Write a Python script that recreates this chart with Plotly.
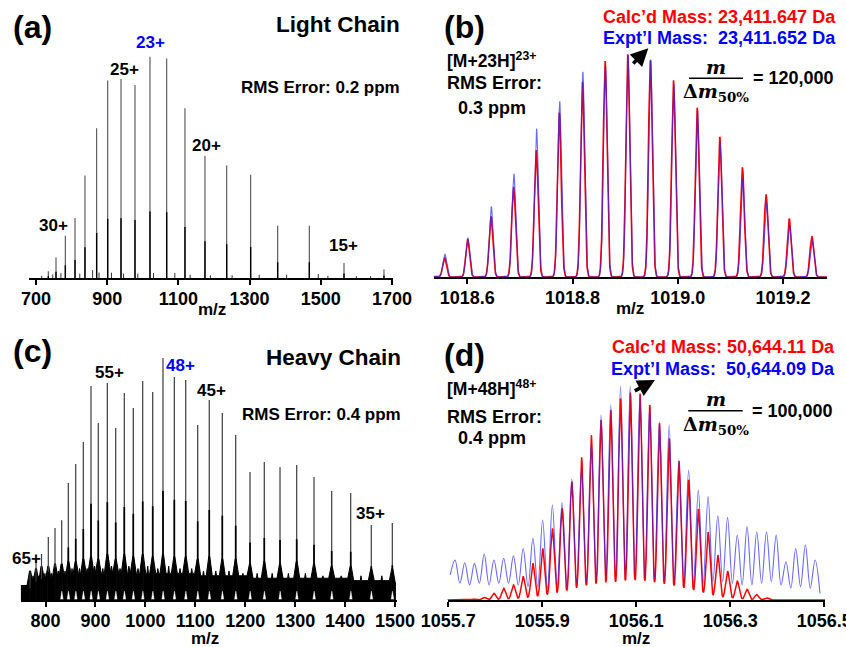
import numpy as np
import plotly.graph_objects as go

W, H = 846, 647
FONT = "Liberation Sans, Arial, sans-serif"
RED = "#ff0000"
BLUE = "#0000ff"

# ---------------- data: (a) light chain charge-state envelope ----------------
a_mz = [734.6, 756.2, 782.4, 809.6, 837.6, 870.4, 901.4, 938.8, 978.1, 1020.2,
        1067.1, 1118.5, 1174.7, 1235.7, 1303.0, 1378.9, 1467.8, 1565.2, 1677.5]
a_int = [3.0, 9.3, 19.1, 27.1, 46.3, 67.7, 89.2, 89.9, 87.2, 100.0,
         99.2, 76.7, 55.2, 50.8, 46.6, 23.6, 23.6, 6.8, 3.8]
a_minor_mz = [716, 747, 770, 823, 859, 877, 912, 946, 986, 1030, 1090, 1133,
              1190, 1251, 1327, 1404, 1493, 1520, 1600, 1640]
a_minor_int = [1.0, 1.6, 2.2, 2.0, 3.6, 2.5, 2.4, 2.0, 2.0, 2.2, 2.3, 1.5,
               1.2, 1.2, 1.5, 1.5, 1.8, 1.0, 0.8, 0.8]
a_ticks = [700, 900, 1100, 1300, 1500, 1700]

# ---------------- data: (b) [M+23H]23+ isotopic distribution ----------------
b_mz = [1018.5568, 1018.6006, 1018.6450, 1018.6880, 1018.7310, 1018.7750,
        1018.8190, 1018.8620, 1018.9050, 1018.9480, 1018.9920, 1019.0370,
        1019.0800, 1019.1230, 1019.1680, 1019.2120, 1019.2550]
b_calc = [8.7, 16.8, 27.2, 40.4, 56.9, 73.7, 87.6, 97.0, 100.0, 97.3, 88.3,
          76.0, 62.9, 49.1, 37.1, 26.2, 18.3]
b_expt = [10.2, 17.5, 31.7, 46.4, 66.6, 78.9, 92.1, 95.1, 99.6, 97.6, 86.5,
          74.9, 60.2, 44.6, 33.2, 23.2, 16.2]
b_expt_shift = 0.0006
b_ticks = [1018.6, 1018.8, 1019.0, 1019.2]

# ---------------- data: (c) heavy chain charge-state envelope ----------------
c_mz = [769.0, 781.0, 792.0, 805.6, 819.0, 832.4, 845.7, 860.5, 875.7, 891.1,
        905.7, 923.8, 940.6, 957.8, 975.8, 994.7, 1014.7, 1035.3, 1058.0,
        1080.8, 1104.8, 1128.0, 1154.1, 1180.9, 1209.6, 1238.2, 1269.7,
        1303.1, 1337.8, 1373.2, 1411.3, 1452.5, 1494.6]
c_int = [11.0, 17.0, 19.0, 26.0, 29.8, 33.0, 48.3, 56.2, 65.3, 88.4, 73.1,
         89.7, 71.1, 85.5, 79.3, 90.5, 86.0, 100.0, 92.1, 90.9, 72.3, 82.6,
         77.3, 68.2, 52.9, 57.0, 55.0, 55.8, 50.8, 45.0, 44.2, 31.0, 31.8]
# noisy base of the heavy-chain spectrum (% of tallest peak)
c_grass_peak = [12, 13, 14, 14, 15, 15, 16, 16, 17, 18, 17, 19, 17, 19, 18, 19,
                18, 19, 18, 18, 17, 18, 17, 17, 15, 16, 15, 16, 15, 14, 14, 13, 13]
c_grass_mid = [10, 10, 11, 11, 12, 12, 13, 13, 13, 14, 13, 14, 13, 14, 13, 14,
               13, 14, 13, 13, 12, 12, 12, 11, 11, 11, 11, 11, 10, 10, 10, 10]
c_grass_valley = [6, 7, 7, 8, 8, 9, 9, 10, 10, 11, 11, 11, 11, 11, 11, 11, 11,
                  11, 11, 11, 11, 10, 10, 10, 10, 9, 9, 9, 9, 9, 9, 8, 8, 7]
c_notch = 3.6
c_ticks = [800, 900, 1000, 1100, 1200, 1300, 1400, 1500]

# ---------------- data: (d) [M+48H]48+ isotopic distribution ----------------
d_mz = [1055.7143, 1055.7350, 1055.7557, 1055.7764, 1055.7971, 1055.8178,
        1055.8386, 1055.8593, 1055.8800, 1055.9007, 1055.9214, 1055.9421,
        1055.9628, 1055.9835, 1056.0042, 1056.0249, 1056.0456, 1056.0664,
        1056.0871, 1056.1078, 1056.1285, 1056.1492, 1056.1699, 1056.1906,
        1056.2113, 1056.2320, 1056.2527, 1056.2734, 1056.2942, 1056.3149,
        1056.3356, 1056.3563, 1056.3770, 1056.3977, 1056.4184, 1056.4391,
        1056.4598, 1056.4805]
d_calc = [0, 0, 0.5, 1.2, 3.1, 5.5, 7.0, 10.9, 17.1, 24.1, 33.5, 42.8, 55.3,
          66.7, 77.1, 84.1, 88.8, 94.2, 96.9, 96.6, 91.1, 82.6, 75.5, 65.0,
          56.1, 42.5, 31.8, 21.0, 13.5, 8.8, 5.0, 2.5, 1.0, 0, 0, 0, 0, 0]
d_expt = [18.7, 17.4, 17.1, 21.5, 18.7, 19.5, 20.6, 24.1, 28.8, 37.4, 44.4,
          45.5, 56.5, 61.5, 73.2, 86.4, 91.1, 99.7, 100.0, 95.8, 90.3, 83.3,
          81.8, 65.4, 60.7, 51.4, 48.3, 39.3, 38.6, 30.4, 34.3, 31.9, 31.9,
          30.4, 17.9, 24.1, 25.7, 18.7]
d_expt_valley = [11.7, 7.8, 7.0, 7.8, 7.0, 7.8, 7.8, 7.0, 6.2, 6.2, 5.5, 7.0,
                 6.2, 7.8, 8.6, 9.3, 10.9, 11.7, 10.9, 12.5, 10.9, 10.1, 9.3,
                 8.6, 8.6, 7.8, 7.8, 8.6, 8.6, 7.8, 7.0, 7.0, 7.8, 8.6, 7.0,
                 5.5, 6.2, 5.5, 3.1]
d_ticks = [1055.7, 1055.9, 1056.1, 1056.3, 1056.5]

# ---------------- helpers ----------------
def px(x):
    return x / W

def py(y):
    return 1 - y / H

def sticks(mz, inten, frac=1.0):
    xs, ys = [], []
    for m, h in zip(mz, inten):
        xs += [m, m, None]
        ys += [0, h * frac, None]
    return xs, ys

def profile(centers, heights, sigma, lo, hi, step):
    x = np.arange(lo, hi, step)
    y = np.zeros_like(x)
    for c, h in zip(centers, heights):
        y += h * np.exp(-0.5 * ((x - c) / sigma) ** 2)
    return x, y

fig = go.Figure()

# panel geometry (pixels): x-left, x-right, baseline, 100% level, top
panels = {
    "a": dict(xl=29.3, xr=393.3, yb=278.0, y100=56.7, yt=30.0, rng=[681.2, 1703.7], ticks=a_ticks, fmt="%d"),
    "b": dict(xl=434.0, xr=827.0, yb=277.0, y100=54.3, yt=30.0, rng=[1018.5367, 1019.2838], ticks=b_ticks, fmt="%.1f"),
    "c": dict(xl=20.7, xr=396.7, yb=600.0, y100=358.0, yt=345.0, rng=[750.3, 1503.4], ticks=c_ticks, fmt="%d"),
    "d": dict(xl=447.5, xr=825.0, yb=600.0, y100=386.0, yt=345.0, rng=[1055.6983, 1056.5015], ticks=d_ticks, fmt="%.1f"),
}
axis_ids = {"a": ("x", "y"), "b": ("x2", "y2"), "c": ("x3", "y3"), "d": ("x4", "y4")}

layout_axes = {}
for k, p in panels.items():
    xa, ya = axis_ids[k]
    xname = "xaxis" if xa == "x" else "xaxis" + xa[1:]
    yname = "yaxis" if ya == "y" else "yaxis" + ya[1:]
    ymax = 100.0 * (p["yb"] - p["yt"]) / (p["yb"] - p["y100"])
    layout_axes[xname] = dict(
        domain=[px(p["xl"]), px(p["xr"])], range=p["rng"], anchor=ya,
        showline=True, linecolor="black", linewidth=2, showgrid=False, zeroline=False,
        ticks="outside", ticklen=5, tickwidth=2, tickcolor="black",
        tickmode="array", tickvals=p["ticks"], ticktext=[p["fmt"] % t for t in p["ticks"]],
        tickfont=dict(family=FONT, size=18, color="black", weight="bold"),
        ticklabelstandoff=-2, automargin=False, ticklabeloverflow="allow",
        layer="above traces", fixedrange=True,
    )
    layout_axes[yname] = dict(
        domain=[py(p["yb"]), py(p["yt"])], range=[0, ymax], anchor=xa,
        visible=False, fixedrange=True, automargin=False,
    )

# (a) sticks
x, y = sticks(a_minor_mz, a_minor_int)
fig.add_trace(go.Scatter(x=x, y=y, mode="lines", line=dict(color="#333333", width=1), xaxis="x", yaxis="y"))
x, y = sticks(a_mz, a_int)
fig.add_trace(go.Scatter(x=x, y=y, mode="lines", line=dict(color="#505050", width=1.1), xaxis="x", yaxis="y"))
x, y = sticks(a_mz, a_int, 0.3)
fig.add_trace(go.Scatter(x=x, y=y, mode="lines", line=dict(color="#000000", width=1.4), xaxis="x", yaxis="y"))

# (b) profiles
x, y = profile(b_mz, b_calc, 0.0036, 1018.50, 1019.30, 0.0003)
fig.add_trace(go.Scatter(x=x, y=y, mode="lines", line=dict(color=RED, width=1.6), xaxis="x2", yaxis="y2"))
x, y = profile([m + b_expt_shift for m in b_mz], b_expt, 0.0036, 1018.50, 1019.30, 0.0003)
fig.add_trace(go.Scatter(x=x, y=y, mode="lines", line=dict(color="rgba(40,40,255,0.7)", width=1.1), xaxis="x2", yaxis="y2"))

# (c) noisy base + sticks
gx, gy = [panels["c"]["rng"][0]], [c_grass_valley[0]]
for i, m in enumerate(c_mz):
    gx += [m - 6.0, m - 1.0, m + 1.0, m + 6.0]
    gy += [c_grass_valley[i], c_grass_peak[i], c_grass_peak[i], c_grass_valley[i + 1]]
    if i + 1 < len(c_mz):
        mid = 0.5 * (m + c_mz[i + 1])
        gx += [mid - 1.5, mid, mid + 1.5]
        gy += [c_grass_valley[i + 1], c_grass_mid[i], c_grass_valley[i + 1]]
gx.append(panels["c"]["rng"][1] - 1.5)
gy.append(c_grass_valley[-1])
fig.add_trace(go.Scatter(x=gx, y=gy, mode="lines", fill="tozeroy", fillcolor="black",
                         line=dict(color="black", width=1), xaxis="x3", yaxis="y3"))
x, y = sticks(c_mz, c_int)
fig.add_trace(go.Scatter(x=x, y=y, mode="lines", line=dict(color="#3c3c3c", width=1.2), xaxis="x3", yaxis="y3"))
x, y = sticks(c_mz, c_int, 0.45)
fig.add_trace(go.Scatter(x=x, y=y, mode="lines", line=dict(color="#000000", width=1.7), xaxis="x3", yaxis="y3"))
# white notches at the foot of each charge state
nx, ny = [], []
for m in c_mz[5:]:
    nx += [m - 2.2, m + 0.3, m + 2.8, None]
    ny += [0.3, c_notch, 0.3, None]
fig.add_trace(go.Scatter(x=nx, y=ny, mode="lines", fill="toself", fillcolor="white",
                         line=dict(color="white", width=0.5), xaxis="x3", yaxis="y3"))

# (d) profiles
x, y = profile(d_mz, d_calc, 0.0042, 1055.69, 1056.51, 0.0004)
fig.add_trace(go.Scatter(x=x, y=y, mode="lines", line=dict(color=RED, width=1.5), xaxis="x4", yaxis="y4"))
half = 0.5 * (d_mz[1] - d_mz[0])
bx = [d_mz[0] - half]
by = [d_expt_valley[0]]
for i, m in enumerate(d_mz):
    bx.append(m)
    by.append(d_expt[i])
    if i + 1 < len(d_mz):
        bx.append(0.5 * (m + d_mz[i + 1]))
    else:
        bx.append(m + half)
    by.append(d_expt_valley[i + 1])
fig.add_trace(go.Scatter(x=bx, y=by, mode="lines", line=dict(color="rgba(40,40,255,0.7)", width=1.1, shape="spline", smoothing=1.0),
                         xaxis="x4", yaxis="y4"))

# ---------------- text ----------------
ann = []

def text(s, x, y, size=17, color="black", xanchor="center", yanchor="middle", family=FONT, weight="bold", style="normal"):
    ann.append(dict(text=s, x=px(x), y=py(y), xref="paper", yref="paper", showarrow=False,
                    xanchor=xanchor, yanchor=yanchor,
                    font=dict(family=family, size=size, color=color, weight=weight, style=style)))

# (a)
text("(a)", 11, 27, 32, xanchor="left")
text("Light Chain", 402, 25, 22.5, xanchor="right")
text("23+", 150.7, 42.3, 17, BLUE)
text("25+", 125, 69.3, 17)
text("RMS Error: 0.2 ppm", 402, 87.3, 17, xanchor="right")
text("20+", 206.7, 145.7, 17)
text("30+", 54, 225, 17)
text("15+", 343.3, 245, 17)
text("m/z", 211.7, 309, 17)

# (b)
text("(b)", 442, 27, 32, xanchor="left")
text("Calc\u2019d Mass: 23,411.647 Da", 838.3, 16.7, 18, RED, xanchor="right")
text("Expt\u2019l Mass:\u00a0 23,411.652 Da", 838.3, 38.3, 18, BLUE, xanchor="right")
text("[M+23H]<sup>23+</sup>", 445, 60, 17.5, xanchor="left")
text("RMS Error:", 445, 83.3, 18, xanchor="left")
text("0.3 ppm", 491.7, 108.3, 18)
text("m", 716, 66.7, 19, family="DejaVu Serif", style="italic")
text("\u0394<i>m</i><sub>50%</sub>", 716, 93, 19, family="DejaVu Serif")
text("= 120,000", 751, 78.3, 18, xanchor="left")
text("m/z", 630, 308, 17)

# (c)
text("(c)", 11, 351, 32, xanchor="left")
text("Heavy Chain", 403, 357.5, 22.5, xanchor="right")
text("55+", 109, 372, 17)
text("48+", 180, 365, 17, BLUE)
text("45+", 212, 390, 17)
text("RMS Error: 0.4 ppm", 403, 414, 17, xanchor="right")
text("35+", 370, 513, 17)
text("65+", 27, 558, 17)
text("m/z", 205, 638, 17)

# (d)
text("(d)", 442, 355, 32, xanchor="left")
text("Calc\u2019d Mass: 50,644.11 Da", 836.7, 346.7, 18, RED, xanchor="right")
text("Expt\u2019l Mass:\u00a0 50,644.09 Da", 836.7, 369.3, 18, BLUE, xanchor="right")
text("[M+48H]<sup>48+</sup>", 445, 388.3, 17.5, xanchor="left")
text("RMS Error:", 445, 416.7, 18, xanchor="left")
text("0.4 ppm", 491.7, 438.3, 18)
text("m", 715.5, 399, 19, family="DejaVu Serif", style="italic")
text("\u0394<i>m</i><sub>50%</sub>", 715.5, 425.5, 19, family="DejaVu Serif")
text("= 100,000", 750, 410.7, 18, xanchor="left")
text("m/z", 636, 638, 17)

# arrows
for tip, tail in [((648.3, 48.3), (631.7, 65.0)), ((655.0, 380.0), (633.3, 391.7))]:
    ann.append(dict(x=px(tip[0]), y=py(tip[1]), xref="paper", yref="paper", text="",
                    showarrow=True, ax=tail[0] - tip[0], ay=tail[1] - tip[1],
                    arrowhead=2, arrowsize=1.0, arrowwidth=3.5, arrowcolor="black"))

shapes = [
    dict(type="line", xref="paper", yref="paper", x0=px(689), x1=px(743), y0=py(78.3), y1=py(78.3),
         line=dict(color="black", width=1.5)),
    dict(type="line", xref="paper", yref="paper", x0=px(688.3), x1=px(742.7), y0=py(410.7), y1=py(410.7),
         line=dict(color="black", width=1.5)),
]

fig.update_layout(
    width=W, height=H, margin=dict(l=0, r=0, t=0, b=0, autoexpand=False),
    paper_bgcolor="white", plot_bgcolor="rgba(0,0,0,0)",
    showlegend=False, annotations=ann, shapes=shapes,
    **layout_axes,
)

fig.write_html("out.html", config={"displayModeBar": False},
               post_script="document.body.style.margin='0px';document.body.style.overflow='hidden';")
